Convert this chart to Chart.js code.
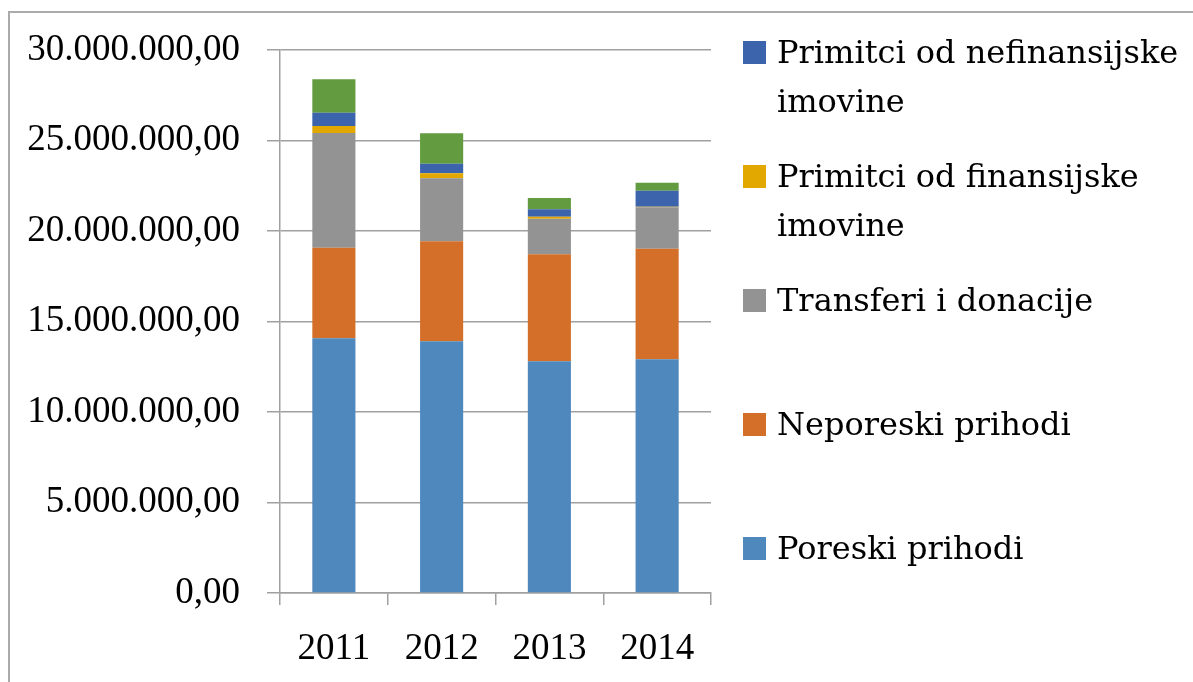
<!DOCTYPE html>
<html>
<head>
<meta charset="utf-8">
<script src="https://cdn.jsdelivr.net/npm/chart.js@4.4.1/dist/chart.umd.min.js"></script>
<style>
  html, body { margin: 0; padding: 0; background: #fff; }
  #wrap { width: 1193px; height: 682px; position: relative; }
</style>
</head>
<body>
<div id="wrap"><canvas id="prihodiChart"></canvas></div>
<script>
// Data
const years = ['2011', '2012', '2013', '2014'];
const poreskiPrihodi = [14070000, 13910000, 12800000, 12910000];
const neporeskiPrihodi = [5010000, 5520000, 5910000, 6110000];
const transferiDonacije = [6330000, 3480000, 1970000, 2290000];
const primitciFinansijske = [390000, 280000, 110000, 30000];
const primitciNefinansijske = [740000, 530000, 410000, 890000];
const primitciZaduzivanje = [1840000, 1680000, 620000, 440000];
const yTicks = [0, 5000000, 10000000, 15000000, 20000000, 25000000, 30000000];

// Colours
const colors = {
    poreski: '#4e88bc',
    neporeski: '#d46f2a',
    transferi: '#939393',
    finansijske: '#e3a800',
    nefinansijske: '#3c64ad',
    zaduzivanje: '#629b40'
};
const lineColor = '#a0a0a0';
const fontAxis = "'Liberation Serif', 'Times New Roman', serif";
const fontLegend = "'DejaVu Serif', serif";

// 30000000 -> 30.000.000,00
function formatNum(v) {
    return Math.round(v).toString().replace(/\B(?=(\d{3})+(?!\d))/g, '.') + ',00';
}

function wrapText(ctx, text, maxWidth) {
    const words = text.split(' ');
    const lines = [];
    let line = '';
    words.forEach(w => {
        const test = line ? line + ' ' + w : w;
        if (ctx.measureText(test).width > maxWidth && line) {
            lines.push(line);
            line = w;
        } else {
            line = test;
        }
    });
    if (line) lines.push(line);
    return lines;
}

// Outer frame
const framePlugin = {
    id: 'frame',
    beforeDraw(chart) {
        const ctx = chart.ctx;
        ctx.save();
        ctx.strokeStyle = '#ababab';
        ctx.lineWidth = 2;
        ctx.strokeRect(9, 12, 2000, 2000);
        ctx.restore();
    }
};

// Legend on the right, top item = last dataset (first one is cut off)
const sideLegendPlugin = {
    id: 'sideLegend',
    afterDraw(chart) {
        const ctx = chart.ctx;
        const area = chart.chartArea;
        const boxX = area.right + 32;
        const textX = boxX + 34;
        let baseline = area.top + 13;
        ctx.save();
        ctx.font = '32px ' + fontLegend;
        ctx.textBaseline = 'alphabetic';
        ctx.textAlign = 'left';
        const items = chart.data.datasets.map((ds, i) => ({ ds, i })).reverse()
            .filter(it => !it.ds.hideInLegend);
        items.forEach(it => {
            ctx.fillStyle = it.ds.backgroundColor;
            ctx.fillRect(boxX, baseline - 22, 23, 23);
            ctx.fillStyle = '#000';
            const lines = wrapText(ctx, it.ds.label, 412);
            lines.forEach((l, k) => ctx.fillText(l, textX, baseline + k * 49));
            baseline += 124;
        });
        ctx.restore();
    }
};

function initChart() {
    const ctx = document.getElementById('prihodiChart').getContext('2d');
    new Chart(ctx, {
        type: 'bar',
        data: {
            labels: years,
            datasets: [
                { label: 'Poreski prihodi', data: poreskiPrihodi, backgroundColor: colors.poreski },
                { label: 'Neporeski prihodi', data: neporeskiPrihodi, backgroundColor: colors.neporeski },
                { label: 'Transferi i donacije', data: transferiDonacije, backgroundColor: colors.transferi },
                { label: 'Primitci od finansijske imovine', data: primitciFinansijske, backgroundColor: colors.finansijske },
                { label: 'Primitci od nefinansijske imovine', data: primitciNefinansijske, backgroundColor: colors.nefinansijske },
                { label: 'Primitci od zaduživanja', data: primitciZaduzivanje, backgroundColor: colors.zaduzivanje, hideInLegend: true }
            ]
        },
        options: {
            responsive: true,
            maintainAspectRatio: false,
            animation: false,
            datasets: {
                bar: { barPercentage: 0.4, categoryPercentage: 1.0, borderWidth: 0 }
            },
            layout: { padding: { left: 0, right: 482, top: 50, bottom: 0 } },
            plugins: {
                legend: { display: false },
                tooltip: { enabled: false },
                title: { display: false }
            },
            scales: {
                x: {
                    stacked: true,
                    offset: true,
                    grid: { drawOnChartArea: false, drawTicks: true, tickLength: 12, color: lineColor, lineWidth: 1.5, offset: true },
                    border: { color: lineColor, width: 1.5 },
                    ticks: { color: '#000', font: { family: fontAxis, size: 37 }, padding: 22 },
                    afterFit(scale) { scale.height = 89; }
                },
                y: {
                    stacked: true,
                    min: 0,
                    max: 30000000,
                    afterBuildTicks(scale) { scale.ticks = yTicks.map(v => ({ value: v })); },
                    grid: { color: lineColor, lineWidth: 1.5, tickLength: 13 },
                    border: { color: lineColor, width: 1.5 },
                    ticks: {
                        color: '#000',
                        font: { family: fontAxis, size: 37 },
                        padding: 27,
                        callback: v => formatNum(v)
                    },
                    afterFit(scale) { scale.width = 280; }
                }
            }
        },
        plugins: [framePlugin, sideLegendPlugin]
    });
}

document.addEventListener('DOMContentLoaded', () => {
    initChart();
});
</script>
</body>
</html>
